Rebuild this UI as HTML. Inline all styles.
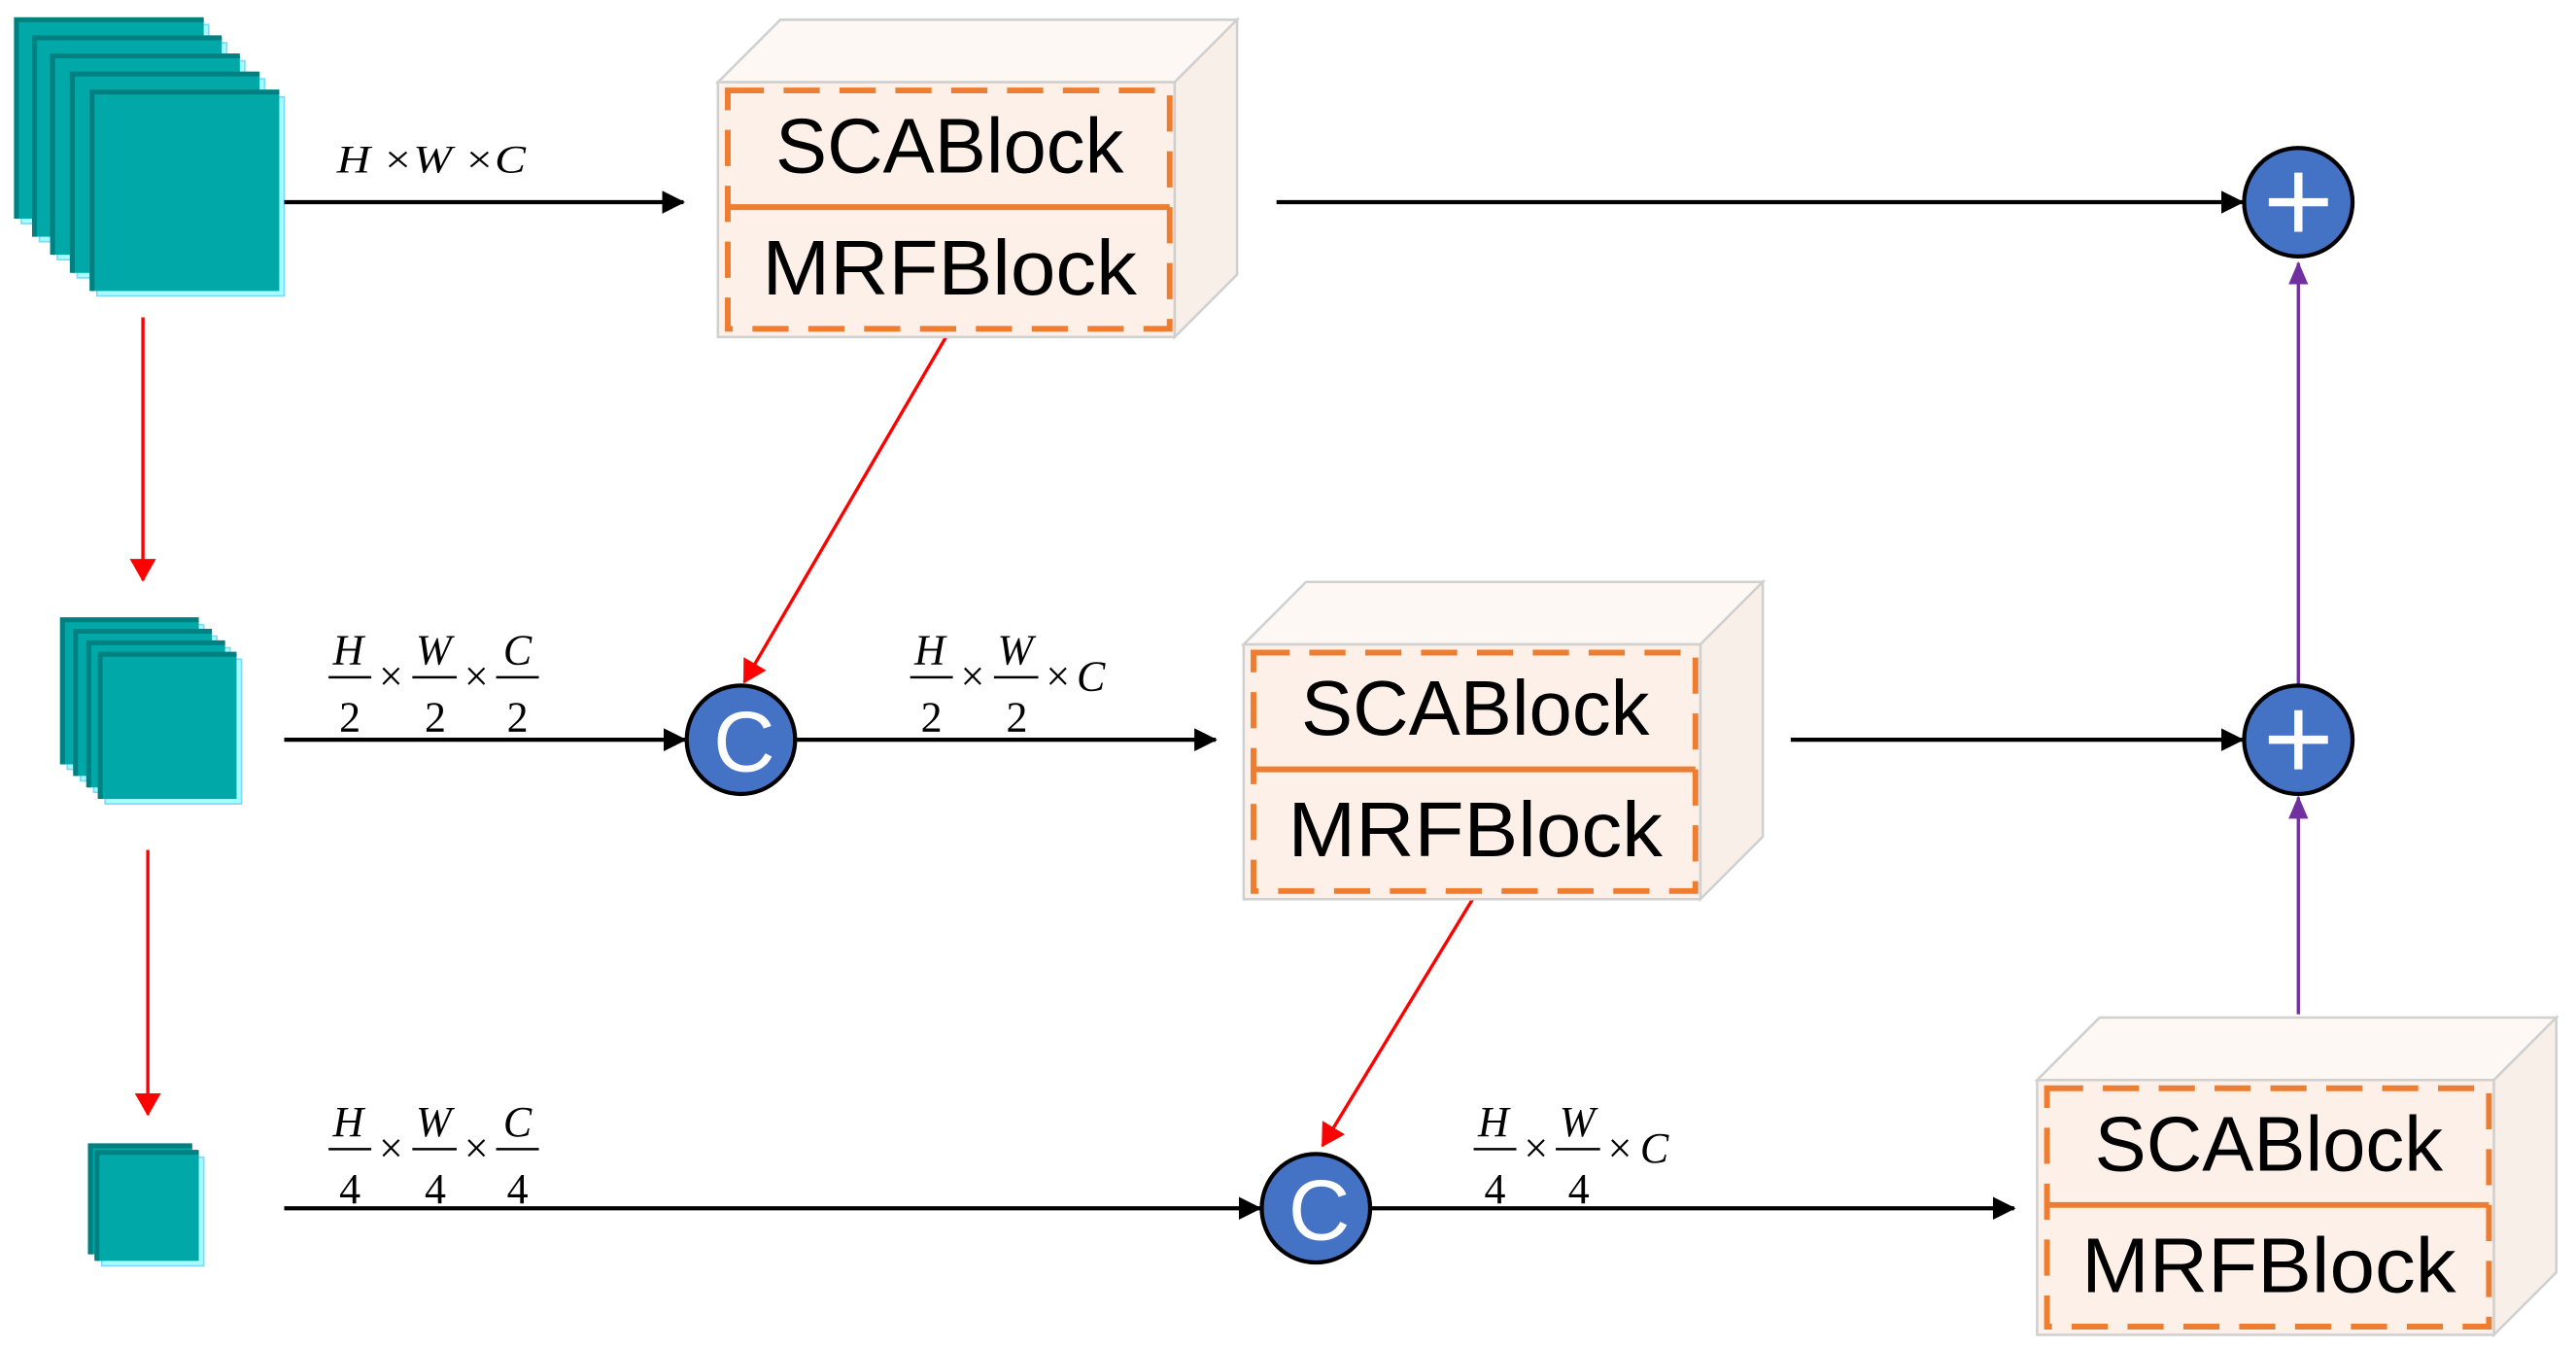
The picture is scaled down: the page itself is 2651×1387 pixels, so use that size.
<!DOCTYPE html>
<html><head><meta charset="utf-8"><style>html,body{margin:0;padding:0;background:#fff}svg{display:block}</style></head>
<body>
<svg width="2651" height="1387" viewBox="0 0 1568 820" preserveAspectRatio="none" xmlns="http://www.w3.org/2000/svg">
<defs>
<marker id="ab" markerWidth="14" markerHeight="14" refX="13" refY="7" orient="auto" markerUnits="userSpaceOnUse"><path d="M0,0 L14,7 L0,14 Z" fill="#000"/></marker>
<marker id="ar" markerWidth="14" markerHeight="16" refX="13" refY="8" orient="auto" markerUnits="userSpaceOnUse"><path d="M0,0 L14,8 L0,16 Z" fill="#f00"/></marker>
<marker id="ap" markerWidth="14" markerHeight="12" refX="13" refY="6" orient="auto" markerUnits="userSpaceOnUse"><path d="M0,0 L14,6 L0,12 Z" fill="#7030a0"/></marker>
<g id="layer1"><rect x="3" y="3" width="114" height="121" fill="#a6ffff" stroke="#7fd8ff" stroke-width="1"/><rect x="0" y="0" width="114" height="121" fill="#00a8a8"/><path d="M0,121 L0,0 L114,0" fill="none" stroke="#008080" stroke-width="3"/></g>
<g id="layer2"><rect x="3" y="3" width="83" height="88" fill="#a6ffff" stroke="#7fd8ff" stroke-width="1"/><rect x="0" y="0" width="83" height="88" fill="#00a8a8"/><path d="M0,88 L0,0 L83,0" fill="none" stroke="#008080" stroke-width="3"/></g>
<g id="layer3"><rect x="3" y="3" width="62" height="66" fill="#a6ffff" stroke="#7fd8ff" stroke-width="1"/><rect x="0" y="0" width="62" height="66" fill="#00a8a8"/><path d="M0,66 L0,0 L62,0" fill="none" stroke="#008080" stroke-width="3"/></g>
</defs>

<use href="#layer1" x="10" y="12"/><use href="#layer1" x="21" y="23"/><use href="#layer1" x="32" y="34"/><use href="#layer1" x="44" y="45"/><use href="#layer1" x="56" y="56"/>
<use href="#layer2" x="38" y="377"/><use href="#layer2" x="46" y="384"/><use href="#layer2" x="54" y="391"/><use href="#layer2" x="61" y="398"/>
<use href="#layer3" x="55" y="697"/><use href="#layer3" x="59" y="701"/>

<line x1="87" y1="193" x2="87" y2="353" stroke="#f00" stroke-width="2" marker-end="url(#ar)"/>
<line x1="90" y1="517" x2="90" y2="678" stroke="#f00" stroke-width="2" marker-end="url(#ar)"/>
<line x1="577" y1="203" x2="453" y2="415" stroke="#f00" stroke-width="2" marker-end="url(#ar)"/>
<line x1="897" y1="546" x2="805" y2="697" stroke="#f00" stroke-width="2" marker-end="url(#ar)"/>

<g stroke="#000" stroke-width="2.5">
<line x1="173" y1="123" x2="416" y2="123" marker-end="url(#ab)"/>
<line x1="777" y1="123" x2="1365" y2="123" marker-end="url(#ab)"/>
<line x1="173" y1="450" x2="417" y2="450" marker-end="url(#ab)"/>
<line x1="485" y1="450" x2="740" y2="450" marker-end="url(#ab)"/>
<line x1="1090" y1="450" x2="1365" y2="450" marker-end="url(#ab)"/>
<line x1="173" y1="735" x2="767" y2="735" marker-end="url(#ab)"/>
<line x1="835" y1="735" x2="1226" y2="735" marker-end="url(#ab)"/>
</g>
<line x1="1399" y1="417" x2="1399" y2="160" stroke="#7030a0" stroke-width="2" marker-end="url(#ap)"/>
<line x1="1399" y1="617" x2="1399" y2="485" stroke="#7030a0" stroke-width="2" marker-end="url(#ap)"/>

<g id="cube1">
<path d="M437,50 L475,12 L753,12 L715,50 Z" fill="#fdf8f4" stroke="#d0d0d0" stroke-width="1.5"/>
<path d="M715,50 L753,12 L753,167 L715,205 Z" fill="#f8efe8" stroke="#d0d0d0" stroke-width="1.5"/>
<rect x="437" y="50" width="278" height="155" fill="#fdf0e8" stroke="#d0d0d0" stroke-width="1.5"/>
<rect x="443" y="55" width="269" height="145" fill="none" stroke="#ed7d31" stroke-width="3.5" stroke-dasharray="22,12"/>
<line x1="443" y1="126" x2="712" y2="126" stroke="#ed7d31" stroke-width="3.5"/>
<text x="578" y="105" font-family="'Liberation Sans',sans-serif" font-size="47" text-anchor="middle" textLength="212" lengthAdjust="spacingAndGlyphs">SCABlock</text>
<text x="578" y="179" font-family="'Liberation Sans',sans-serif" font-size="47" text-anchor="middle" textLength="228" lengthAdjust="spacingAndGlyphs">MRFBlock</text>
</g>
<use href="#cube1" x="320" y="342"/>
<use href="#cube1" x="803" y="607"/>

<g stroke="#000" stroke-width="2.5" fill="#4472c4">
<circle cx="1399" cy="123" r="33"/><circle cx="1399" cy="450" r="33"/>
<circle cx="451" cy="450" r="33"/><circle cx="801" cy="735" r="33"/>
</g>
<g stroke="#fff" stroke-width="5">
<line x1="1381" y1="123" x2="1417" y2="123"/><line x1="1399" y1="105" x2="1399" y2="141"/>
<line x1="1381" y1="450" x2="1417" y2="450"/><line x1="1399" y1="432" x2="1399" y2="468"/>
</g>
<g font-family="'Liberation Sans',sans-serif" font-size="52" fill="#fff" text-anchor="middle">
<text x="453" y="469">C</text><text x="803" y="754">C</text>
</g>

<text x="205" y="105" font-family="'Liberation Serif',serif" font-size="24" font-style="italic" fill="#000" textLength="115" lengthAdjust="spacingAndGlyphs">H ×W ×C</text>

<g font-family="'Liberation Serif',serif" font-size="26" fill="#000" text-anchor="middle">
<text x="212" y="404" font-style="italic">H</text><text x="264" y="404" font-style="italic">W</text><text x="315" y="404" font-style="italic">C</text>
<line x1="200" y1="412" x2="226" y2="412" stroke="#000" stroke-width="1.5"/>
<line x1="251" y1="412" x2="278" y2="412" stroke="#000" stroke-width="1.5"/>
<line x1="302" y1="412" x2="328" y2="412" stroke="#000" stroke-width="1.5"/>
<text x="238" y="420">×</text><text x="290" y="420">×</text>
<text x="213" y="445">2</text><text x="265" y="445">2</text><text x="315" y="445">2</text>
</g>
<g font-family="'Liberation Serif',serif" font-size="26" fill="#000" text-anchor="middle">
<text x="566" y="404" font-style="italic">H</text><text x="618" y="404" font-style="italic">W</text>
<line x1="554" y1="412" x2="580" y2="412" stroke="#000" stroke-width="1.5"/>
<line x1="605" y1="412" x2="632" y2="412" stroke="#000" stroke-width="1.5"/>
<text x="592" y="420">×</text><text x="644" y="420">×</text><text x="664" y="420" font-style="italic">C</text>
<text x="567" y="445">2</text><text x="619" y="445">2</text>
</g>
<g font-family="'Liberation Serif',serif" font-size="26" fill="#000" text-anchor="middle">
<text x="212" y="691" font-style="italic">H</text><text x="264" y="691" font-style="italic">W</text><text x="315" y="691" font-style="italic">C</text>
<line x1="200" y1="699" x2="226" y2="699" stroke="#000" stroke-width="1.5"/>
<line x1="251" y1="699" x2="278" y2="699" stroke="#000" stroke-width="1.5"/>
<line x1="302" y1="699" x2="328" y2="699" stroke="#000" stroke-width="1.5"/>
<text x="238" y="707">×</text><text x="290" y="707">×</text>
<text x="213" y="732">4</text><text x="265" y="732">4</text><text x="315" y="732">4</text>
</g>
<g font-family="'Liberation Serif',serif" font-size="26" fill="#000" text-anchor="middle">
<text x="909" y="691" font-style="italic">H</text><text x="960" y="691" font-style="italic">W</text>
<line x1="897" y1="699" x2="923" y2="699" stroke="#000" stroke-width="1.5"/>
<line x1="947" y1="699" x2="974" y2="699" stroke="#000" stroke-width="1.5"/>
<text x="935" y="707">×</text><text x="986" y="707">×</text><text x="1007" y="707" font-style="italic">C</text>
<text x="910" y="732">4</text><text x="961" y="732">4</text>
</g>
</svg>
</body></html>
